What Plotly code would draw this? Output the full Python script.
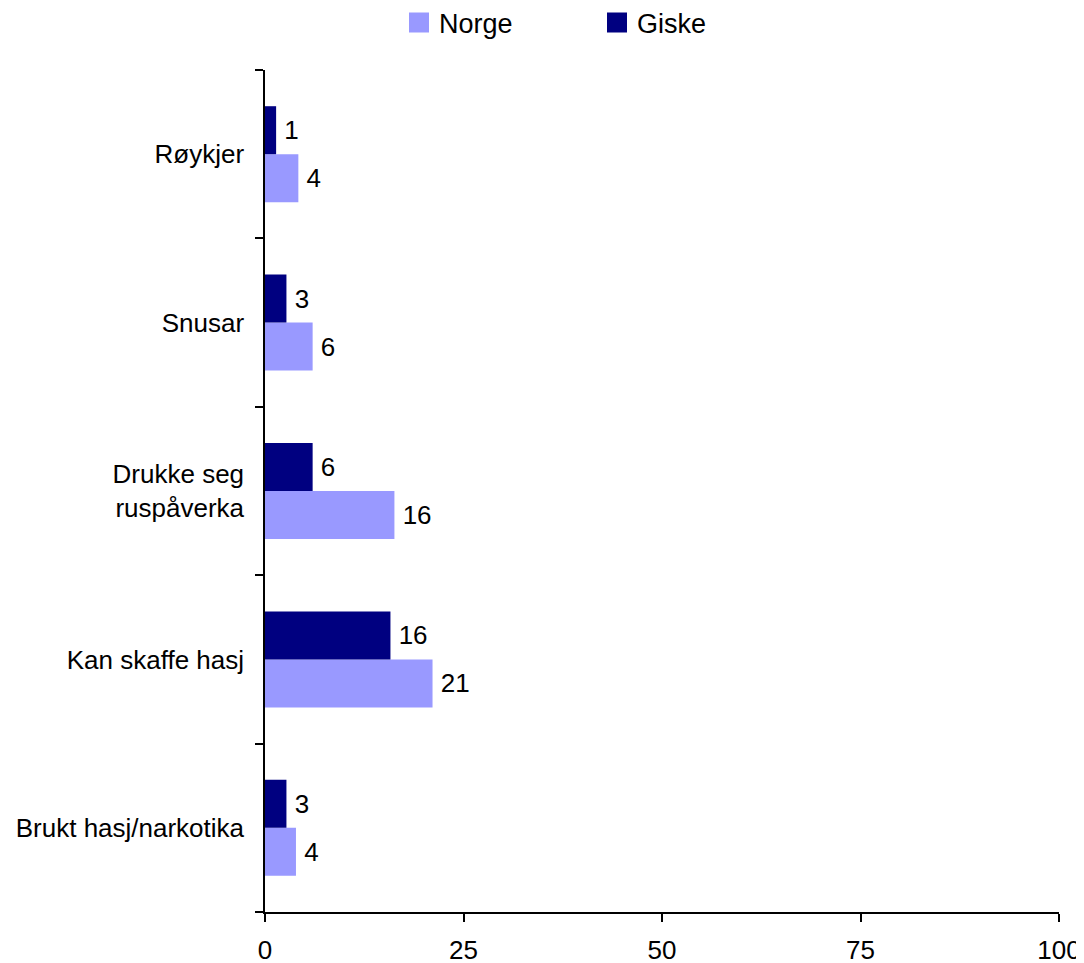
import plotly.graph_objects as go

categories = ["Røykjer", "Snusar", "Drukke seg<br>ruspåverka", "Kan skaffe hasj", "Brukt hasj/narkotika"]
norge = [4.2, 6.0, 16.3, 21.1, 3.9]
giske = [1.4, 2.7, 6.0, 15.8, 2.7]
x_ticks = [0, 25, 50, 75, 100]

NORGE_C = "#9999FF"
GISKE_C = "#000080"
FONT = "Liberation Sans, Arial, sans-serif"
FS = 26
OFF = 8  # page body margin offset

fig = go.Figure()
fig.add_trace(go.Bar(
    y=categories, x=norge, name="Norge", orientation="h", showlegend=False,
    marker=dict(color=NORGE_C, line=dict(width=0)),
    texttemplate="\u2009%{x:.0f}", textposition="outside",
    textfont=dict(color="black", size=FS, family=FONT), cliponaxis=False,
))
fig.add_trace(go.Bar(
    y=categories, x=giske, name="Giske", orientation="h", showlegend=False,
    marker=dict(color=GISKE_C, line=dict(width=0)),
    texttemplate="\u2009%{x:.0f}", textposition="outside",
    textfont=dict(color="black", size=FS, family=FONT), cliponaxis=False,
))
# legend entries with larger square symbols
for name, col in [("Norge", NORGE_C), ("Giske", GISKE_C)]:
    fig.add_trace(go.Scatter(
        x=[None], y=[None], mode="markers", name=name,
        marker=dict(symbol="square", size=16, color=col, line=dict(color=col, width=4)),
        showlegend=True, hoverinfo="skip",
    ))

fig.update_layout(
    width=1084, height=963,
    margin=dict(l=265 - OFF, r=25 + OFF, t=70 - OFF, b=51 + OFF, autoexpand=False),
    paper_bgcolor="white", plot_bgcolor="white",
    font=dict(family=FONT, size=FS, color="black"),
    barmode="group", bargap=0.43, bargroupgap=0,
    showlegend=True,
    legend=dict(orientation="h", xref="container", yref="container",
                x=(399 - OFF) / 1084, xanchor="left", y=1 - (24 - OFF - 1) / 963, yanchor="middle",
                entrywidth=153, entrywidthmode="pixels",
                font=dict(family=FONT, size=27, color="black"),
                traceorder="normal", bgcolor="rgba(0,0,0,0)", itemsizing="trace"),
)
fig.update_xaxes(
    range=[0, 100], tickvals=x_ticks, ticktext=[str(v) for v in x_ticks],
    showgrid=False, zeroline=False, showline=True, linecolor="black", linewidth=1.5,
    ticks="outside", ticklen=8, tickwidth=1.5, tickcolor="black",
    ticklabelstandoff=6, automargin=False,
)
fig.update_yaxes(
    type="category", categoryorder="array", categoryarray=categories[::-1],
    showgrid=False, zeroline=False, showline=True, linecolor="black", linewidth=1.5,
    ticks="outside", ticklen=8, tickwidth=1.5, tickcolor="black", tickson="boundaries",
    ticklabelstandoff=14, automargin=False,
)

fig.write_html("out.html")
